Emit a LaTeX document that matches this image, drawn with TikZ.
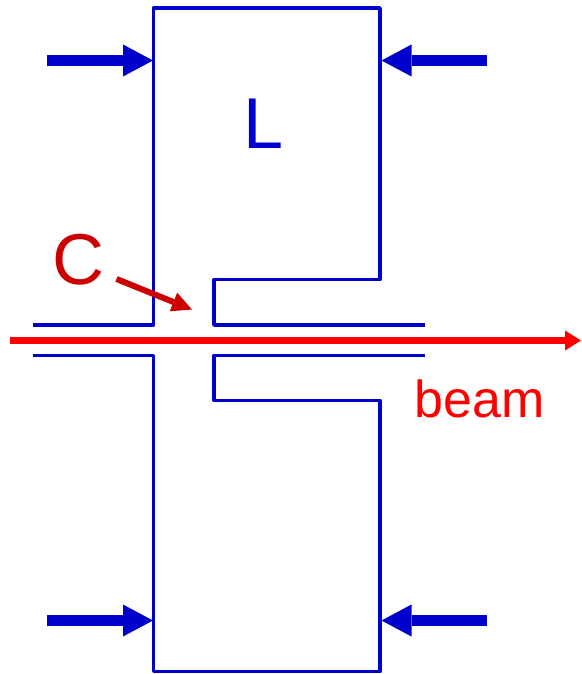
\documentclass[tikz,border=0pt]{standalone}
\usepackage{fontspec}
\setmainfont{Liberation Sans}
\definecolor{bl}{RGB}{0,0,204}
\definecolor{rd}{RGB}{255,0,0}
\definecolor{dr}{RGB}{204,0,0}
\usetikzlibrary{arrows.meta}
\tikzset{
 wall/.style={draw=bl,line width=3.4pt,line cap=butt,line join=round},
 bigarrow/.style={draw=bl,line width=10.5pt,-{Triangle[length=30pt,width=32pt,line width=0pt]}},
 lab/.style={inner sep=0pt,font=\fontsize{#1}{#1}\selectfont}}
\begin{document}
\begin{tikzpicture}[x=1pt,y=-1pt]
\path[use as bounding box] (0,0) rectangle (581,674);
\coordinate (a1) at (47,60.5); \coordinate (a2) at (153,60.5);
\coordinate (b1) at (487,60.5); \coordinate (b2) at (381.5,60.5);
\coordinate (c1) at (47,620.5); \coordinate (c2) at (153,620.5);
\coordinate (d1) at (487,620.5); \coordinate (d2) at (381.5,620.5);
\draw[wall] (33,325) -- (153.5,325) -- (153.5,8) -- (380,8) -- (380,279.5) -- (214,279.5) -- (214,325) -- (425,325);
\draw[wall] (33,355.5) -- (153.5,355.5) -- (153.5,671.5) -- (380,671.5) -- (380,400.5) -- (214,400.5) -- (214,355.5) -- (425,355.5);
\draw[bigarrow] (a1) -- (a2);
\draw[bigarrow] (b1) -- (b2);
\draw[bigarrow] (c1) -- (c2);
\draw[bigarrow] (d1) -- (d2);
\coordinate (e1) at (10,340.5); \coordinate (e2) at (581,340.5);
\draw[draw=rd,line width=7pt,-{Triangle[length=16pt,width=20pt,line width=0pt]}] (e1) -- (e2);
\node[lab=72,text=bl] (L) at (264,124) {L};
\node[lab=72,text=dr] (C) at (78,260) {C};
\coordinate (f1) at (116.5,279); \coordinate (f2) at (192,309.5);
\draw[draw=dr,line width=6pt,-{Triangle[length=20pt,width=20pt,line width=0pt]}] (f1) -- (f2);
\node[lab=52,text=rd] (beam) at (480,399) {beam};
\end{tikzpicture}
\end{document}
